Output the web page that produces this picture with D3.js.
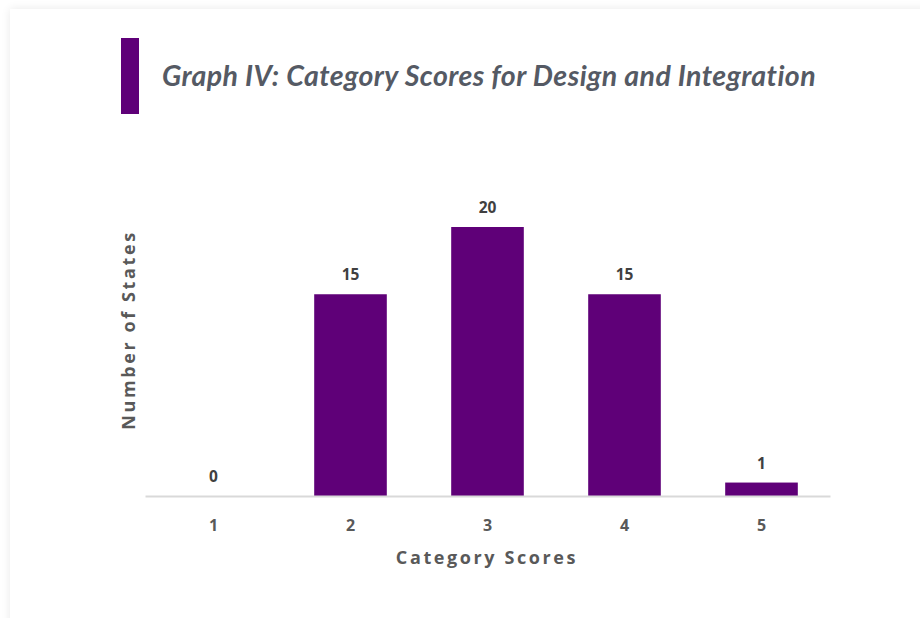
<!DOCTYPE html>
<html>
<head>
<meta charset="utf-8">
<script src="https://cdn.jsdelivr.net/npm/d3@7"></script>
<style>
  html, body { margin: 0; padding: 0; background: #ffffff; overflow: hidden; }
  #card {
    position: absolute; left: 10px; top: 9px; width: 940px; height: 640px;
    background: #ffffff; box-shadow: 0 0 9px rgba(0,0,0,0.09);
  }
  svg { position: absolute; left: 0; top: 0; }
</style>
</head>
<body>
<div id="card"></div>
<div id="chart"></div>
<script>
const categories = ["1", "2", "3", "4", "5"];
const values = [0, 15, 20, 15, 1];
const title = "Graph IV: Category Scores for Design and Integration";
const xTitle = "Category Scores";
const yTitle = "Number of States";

const W = 920, H = 618;
const purple = "#5f0078";
const textGray = "#595959";

const svg = d3.select("#chart").append("svg").attr("width", W).attr("height", H);

// heading accent and title
svg.append("rect").attr("x", 121).attr("y", 38).attr("width", 18).attr("height", 76).attr("fill", purple);
svg.append("text")
  .attr("x", 162).attr("y", 86)
  .attr("font-family", "Lato, sans-serif")
  .attr("font-style", "italic").attr("font-weight", 700)
  .attr("font-size", 28.5)
  .attr("letter-spacing", 0.42)
  .style("font-variant-ligatures", "none")
  .attr("fill", "#555a64")
  .text(title);

const x = d3.scaleBand().domain(categories).range([145, 830]).paddingInner(0.47).paddingOuter(0.235);
const y = d3.scaleLinear().domain([0, 20]).range([496, 227]);

// bars
svg.append("g").selectAll("rect").data(values).join("rect")
  .attr("x", (d, i) => x(categories[i]))
  .attr("width", x.bandwidth())
  .attr("y", d => y(d))
  .attr("height", d => y(0) - y(d))
  .attr("fill", purple);

// baseline axis
const axis = svg.append("g").attr("transform", `translate(0,${y(0)})`)
  .call(d3.axisBottom(x).tickSize(0).tickPadding(24));
axis.select(".domain").attr("stroke", "#d9d9d9").attr("stroke-width", 2);
axis.selectAll("text")
  .attr("font-family", "'Open Sans', sans-serif").attr("font-weight", 700)
  .attr("font-size", 16).attr("fill", textGray);

// value labels
svg.append("g").selectAll("text").data(values).join("text")
  .attr("x", (d, i) => x(categories[i]) + x.bandwidth() / 2)
  .attr("y", d => y(d) - 14)
  .attr("text-anchor", "middle")
  .attr("font-family", "'Open Sans', sans-serif").attr("font-weight", 700)
  .attr("font-size", 15.5).attr("fill", "#404040")
  .text(d => d);

// axis titles
svg.append("text")
  .attr("x", 487).attr("y", 564)
  .attr("text-anchor", "middle")
  .attr("font-family", "'Open Sans', sans-serif").attr("font-weight", 700)
  .attr("font-size", 18).attr("letter-spacing", 2.6).attr("fill", textGray)
  .text(xTitle);

svg.append("text")
  .attr("transform", "translate(135,330) rotate(-90)")
  .attr("text-anchor", "middle")
  .attr("font-family", "'Open Sans', sans-serif").attr("font-weight", 700)
  .attr("font-size", 18).attr("letter-spacing", 2.6).attr("fill", textGray)
  .text(yTitle);
</script>
</body>
</html>
